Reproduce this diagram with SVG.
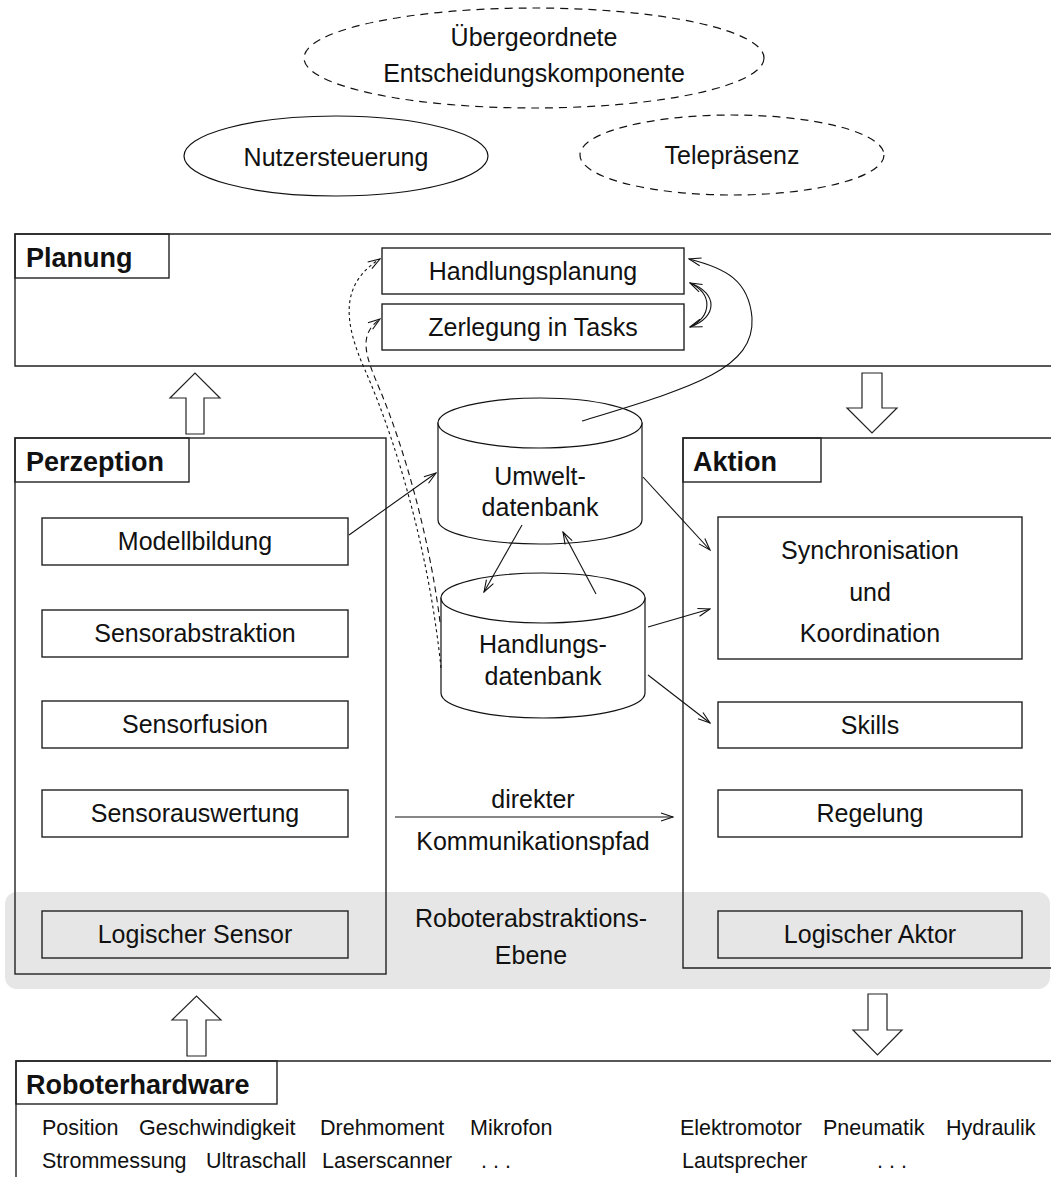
<svg xmlns="http://www.w3.org/2000/svg" width="1051" height="1177" viewBox="0 0 1051 1177">
  <style>
    text { font-family: "Liberation Sans", Arial, sans-serif; fill: #111; }
    .lbl { font-size: 25px; text-anchor: middle; }
    .hdr { font-size: 27px; font-weight: bold; }
    .hw { font-size: 21.5px; }
    .frame { fill: none; stroke: #222; stroke-width: 1.4; }
    .box { fill: none; stroke: #222; stroke-width: 1.4; }
    .ell { fill: none; stroke: #111; stroke-width: 1.2; }
    .dash { stroke-dasharray: 8 6; }
    .cyl { fill: #fff; stroke: #111; stroke-width: 1.2; }
    .con { fill: none; stroke: #111; stroke-width: 1.1; marker-end: url(#open); }
    .block { fill: #fff; stroke: #222; stroke-width: 1.2; }
  </style>
  <defs>
    <marker id="open" viewBox="0 0 14 10" markerWidth="14" markerHeight="10" refX="13" refY="5" orient="auto" markerUnits="userSpaceOnUse">
      <path d="M1,1 L13,5 L1,9" fill="none" stroke="#111" stroke-width="1.1"/>
    </marker>
  </defs>

  <rect width="1051" height="1177" fill="#fff"/>

  <!-- top-level components -->
  <g id="uebergeordnet">
    <ellipse class="ell dash" cx="534" cy="58" rx="230" ry="50"/>
    <text class="lbl" x="534" y="46">Übergeordnete</text>
    <text class="lbl" x="534" y="82">Entscheidungskomponente</text>
  </g>
  <g id="nutzersteuerung">
    <ellipse class="ell" cx="336" cy="156" rx="152" ry="40"/>
    <text class="lbl" x="336" y="166">Nutzersteuerung</text>
  </g>
  <g id="telepraesenz">
    <ellipse class="ell dash" cx="732" cy="155" rx="152" ry="40"/>
    <text class="lbl" x="732" y="164">Telepräsenz</text>
  </g>

  <!-- robot abstraction layer band -->
  <g id="abstraktionsebene">
    <rect x="5" y="892" width="1045" height="97" rx="12" fill="#e6e6e6"/>
    <text class="lbl" x="531" y="927">Roboterabstraktions-</text>
    <text class="lbl" x="531" y="964">Ebene</text>
  </g>

  <!-- planning layer -->
  <g id="planung">
    <path class="frame" d="M1060,234 H15 V366 H1060"/>
    <rect class="box" x="15" y="234" width="154" height="44"/>
    <text class="hdr" x="26" y="267">Planung</text>
  </g>
  <g id="handlungsplanung">
    <rect class="box" x="382" y="248" width="302" height="46"/>
    <text class="lbl" x="533" y="280">Handlungsplanung</text>
  </g>
  <g id="zerlegung">
    <rect class="box" x="382" y="304" width="302" height="46"/>
    <text class="lbl" x="533" y="336">Zerlegung in Tasks</text>
  </g>

  <!-- perception -->
  <g id="perzeption">
    <rect class="frame" x="15" y="438" width="371" height="536"/>
    <rect class="box" x="15" y="438" width="174" height="44"/>
    <text class="hdr" x="26" y="471">Perzeption</text>
  </g>
  <g id="modellbildung">
    <rect class="box" x="42" y="518" width="306" height="47"/>
    <text class="lbl" x="195" y="550">Modellbildung</text>
  </g>
  <g id="sensorabstraktion">
    <rect class="box" x="42" y="610" width="306" height="47"/>
    <text class="lbl" x="195" y="642">Sensorabstraktion</text>
  </g>
  <g id="sensorfusion">
    <rect class="box" x="42" y="701" width="306" height="47"/>
    <text class="lbl" x="195" y="733">Sensorfusion</text>
  </g>
  <g id="sensorauswertung">
    <rect class="box" x="42" y="790" width="306" height="47"/>
    <text class="lbl" x="195" y="822">Sensorauswertung</text>
  </g>
  <g id="logischer-sensor">
    <rect class="box" x="42" y="911" width="306" height="47"/>
    <text class="lbl" x="195" y="943">Logischer Sensor</text>
  </g>

  <!-- action -->
  <g id="aktion">
    <path class="frame" d="M1060,438 H683 V968 H1060"/>
    <rect class="box" x="683" y="438" width="138" height="44"/>
    <text class="hdr" x="693" y="471">Aktion</text>
  </g>
  <g id="synchronisation">
    <rect class="box" x="718" y="517" width="304" height="142"/>
    <text class="lbl" x="870" y="559">Synchronisation</text>
    <text class="lbl" x="870" y="601">und</text>
    <text class="lbl" x="870" y="642">Koordination</text>
  </g>
  <g id="skills">
    <rect class="box" x="718" y="702" width="304" height="46"/>
    <text class="lbl" x="870" y="734">Skills</text>
  </g>
  <g id="regelung">
    <rect class="box" x="718" y="790" width="304" height="47"/>
    <text class="lbl" x="870" y="822">Regelung</text>
  </g>
  <g id="logischer-aktor">
    <rect class="box" x="718" y="911" width="304" height="47"/>
    <text class="lbl" x="870" y="943">Logischer Aktor</text>
  </g>

  <!-- databases -->
  <g id="umweltdatenbank">
    <path class="cyl" d="M438,423 V520 A102,24 0 0 0 642,520 V423 Z"/>
    <ellipse class="cyl" cx="540" cy="423" rx="102" ry="25"/>
    <text class="lbl" x="540" y="485">Umwelt-</text>
    <text class="lbl" x="540" y="516">datenbank</text>
  </g>
  <g id="handlungsdatenbank">
    <path class="cyl" d="M441,598 V693 A102,25 0 0 0 645,693 V598 Z"/>
    <ellipse class="cyl" cx="543" cy="598" rx="102" ry="25"/>
    <text class="lbl" x="543" y="653">Handlungs-</text>
    <text class="lbl" x="543" y="685">datenbank</text>
  </g>

  <!-- hardware -->
  <g id="roboterhardware">
    <path class="frame" d="M1060,1061 H16 V1190"/>
    <rect class="box" x="16" y="1061" width="261" height="43"/>
    <text class="hdr" x="26" y="1094">Roboterhardware</text>
    <text class="hw" x="42" y="1135">Position</text>
    <text class="hw" x="139" y="1135">Geschwindigkeit</text>
    <text class="hw" x="320" y="1135">Drehmoment</text>
    <text class="hw" x="470" y="1135">Mikrofon</text>
    <text class="hw" x="42" y="1168">Strommessung</text>
    <text class="hw" x="206" y="1168">Ultraschall</text>
    <text class="hw" x="322" y="1168">Laserscanner</text>
    <text class="hw" x="481" y="1168">. . .</text>
    <text class="hw" x="680" y="1135">Elektromotor</text>
    <text class="hw" x="823" y="1135">Pneumatik</text>
    <text class="hw" x="946" y="1135">Hydraulik</text>
    <text class="hw" x="682" y="1168">Lautsprecher</text>
    <text class="hw" x="877" y="1168">. . .</text>
  </g>

  <!-- connectors -->
  <g id="connectors">
    <!-- layer transitions -->
    <polygon class="block" points="186,434 186,398 170,398 195,373 220,398 204,398 204,434"/>
    <polygon class="block" points="862,373 882,373 882,408 897,408 872,433 847,408 862,408"/>
    <polygon class="block" points="187,1056 187,1020 172,1020 196.5,996 221,1020 206,1020 206,1056"/>
    <polygon class="block" points="868,994 887,994 887,1030 902,1030 877.5,1055 853,1030 868,1030"/>

    <!-- database links -->
    <path class="con" d="M349,535 L436,473"/>
    <path class="con" d="M522,525 L484,592"/>
    <path class="con" d="M596,594 L563,532"/>
    <path class="con" d="M643,477 L710,550"/>
    <path class="con" d="M648,627 L710,609"/>
    <path class="con" d="M648,675 L710,723"/>
    <path class="con" d="M582,421 C690,388 755,370 752,318 C749,280 725,268 689,259"/>

    <!-- planning feedback -->
    <path class="con" d="M690,283 C718,293 718,317 690,327"/>
    <path class="con" d="M690,327 C712,316 713,294 690,283"/>

    <!-- dashed links into planning -->
    <path class="con" stroke-dasharray="3 3" d="M441,668 C430,560 400,450 365,370 C345,325 338,285 380,259"/>
    <path class="con" stroke-dasharray="6 4" d="M440,622 C430,540 405,450 380,390 C365,355 358,335 380,319"/>

    <!-- direct communication path -->
    <path class="con" d="M395,817 L673,817"/>
    <text class="lbl" x="533" y="808">direkter</text>
    <text class="lbl" x="533" y="850">Kommunikationspfad</text>
  </g>
</svg>
